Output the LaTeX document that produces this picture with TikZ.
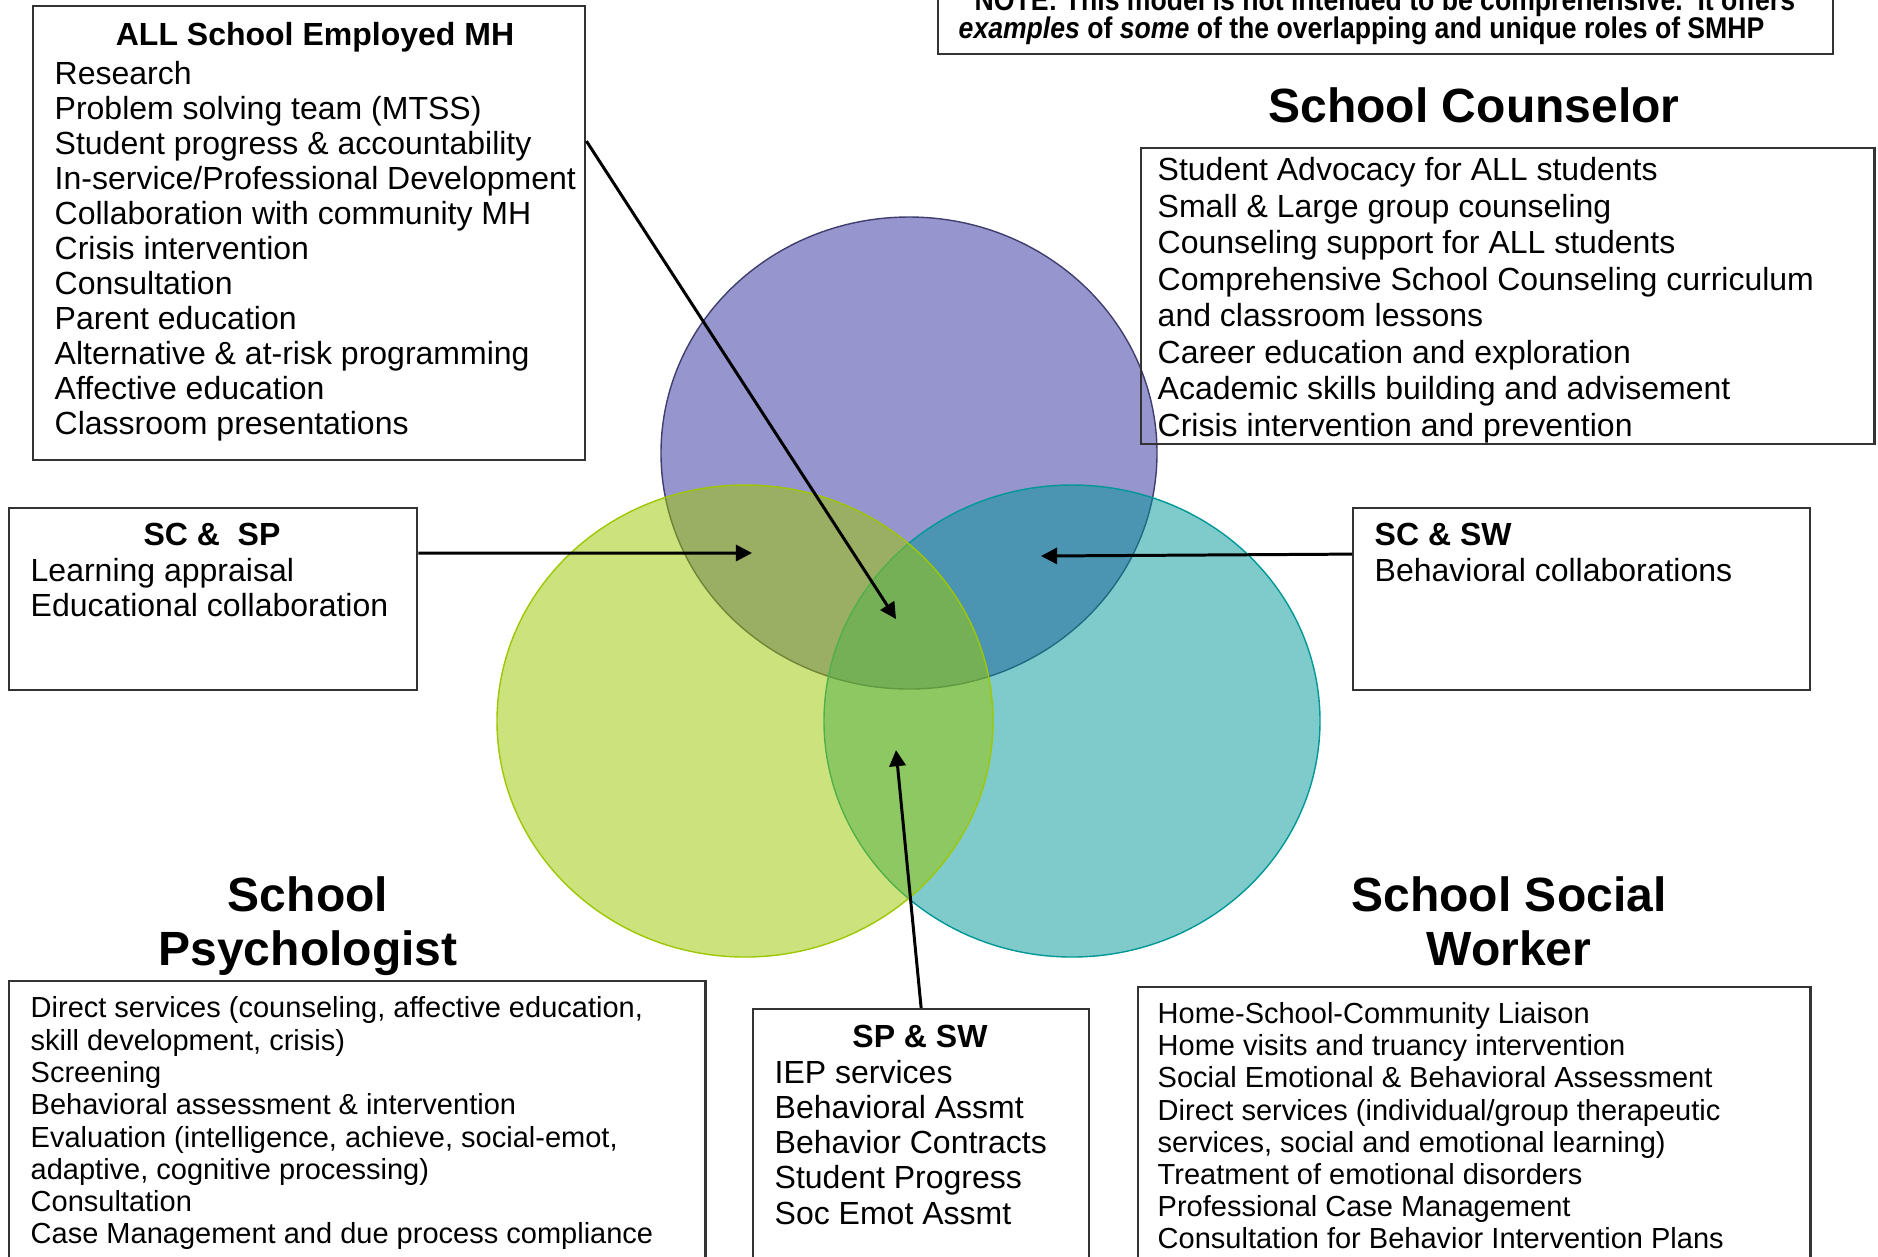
\documentclass[tikz,border=0pt]{standalone}
\usepackage{fontspec}
\setmainfont{Liberation Sans}
\newfontfamily\notefont[FakeStretch=0.89]{Liberation Sans}
\usetikzlibrary{arrows.meta}

\definecolor{sccol}{RGB}{107,104,184}
\definecolor{spcol}{RGB}{157,199,3}
\definecolor{swcol}{RGB}{0,151,151}

\tikzset{
  box/.style={draw=black!80, line width=0.6pt, anchor=north west, inner sep=0pt},
  txt/.style={inner sep=0pt, align=left, anchor=north west},
  head/.style={inner sep=0pt, font=\bfseries\fontsize{9.1}{10}\selectfont},
  role/.style={inner sep=0pt, anchor=north, align=center, font=\bfseries\fontsize{13.66}{15.36}\selectfont},
  link/.style={line width=0.85pt, -{Triangle[length=4.6pt,width=4.6pt]}},
}

\begin{document}
\begin{tikzpicture}[x=0.01cm, y=-0.01cm]
\useasboundingbox (0,0) rectangle (1878,1256);

% the three roles
\draw[draw=sccol!60!black, line width=0.4pt, fill=sccol, fill opacity=0.7] (909,453) ellipse [x radius=248, y radius=236];
\draw[draw=swcol, line width=0.4pt, fill=swcol, fill opacity=0.5] (1072,721) ellipse [x radius=248, y radius=236];
\draw[draw=spcol, line width=0.4pt, fill=spcol, fill opacity=0.52] (745,721) ellipse [x radius=248, y radius=236];

% note
\node[box, minimum width=8.94cm, minimum height=0.83cm] (notebox) at (937,-30) {};
\node[txt, font=\notefont\bfseries\fontsize{8.5}{7.97}\selectfont] (note) at (958,-12)
  {\hspace*{0.16cm}NOTE: This model is not intended to be comprehensive.\ \ It offers\\
   \textit{examples} of \textit{some} of the overlapping and unique roles of SMHP};

% ALL school employed MH
\node[box, minimum width=5.52cm, minimum height=4.54cm] (allbox) at (32,5) {};
\node[head, anchor=north] (alltitle) at (315,22) {ALL School Employed MH};
\node[txt, font=\fontsize{9.1}{9.93}\selectfont] (alllist) at (54,61)
  {Research\\
   Problem solving team (MTSS)\\
   Student progress \& accountability\\
   In-service/Professional Development\\
   Collaboration with community MH\\
   Crisis intervention\\
   Consultation\\
   Parent education\\
   Alternative \& at-risk programming\\
   Affective education\\
   Classroom presentations};

% school counselor
\node[role] (sctitle) at (1474,87) {School Counselor};
\node[box, minimum width=7.33cm, minimum height=2.96cm] (scbox) at (1140,147) {};
\node[txt, font=\fontsize{9.1}{10.38}\selectfont] (sclist) at (1157,157)
  {Student Advocacy for ALL students\\
   Small \& Large group counseling\\
   Counseling support for ALL students\\
   Comprehensive School Counseling curriculum\\
   and classroom lessons\\
   Career education and exploration\\
   Academic skills building and advisement\\
   Crisis intervention and prevention};

% SC & SP
\node[box, minimum width=4.08cm, minimum height=1.82cm] (scspbox) at (8,507) {};
\node[head, anchor=north] (scsptitle) at (212,522) {SC \&\ \ SP};
\node[txt, font=\fontsize{9.1}{9.96}\selectfont] (scsplist) at (30,558)
  {Learning appraisal\\
   Educational collaboration};

% SC & SW
\node[box, minimum width=4.57cm, minimum height=1.82cm] (scswbox) at (1352,507) {};
\node[head, anchor=north west] (scswtitle) at (1374,522) {SC \& SW};
\node[txt, font=\fontsize{9.1}{9.96}\selectfont] (scswlist) at (1374,558)
  {Behavioral collaborations};

% school psychologist
\node[role] (sptitle) at (308,876) {School\\Psychologist};
\node[box, minimum width=6.96cm, minimum height=3.2cm] (spbox) at (8,980) {};
\node[txt, font=\fontsize{8.25}{9.19}\selectfont] (splist) at (30,996)
  {Direct services (counseling, affective education,\\
   skill development, crisis)\\
   Screening\\
   Behavioral assessment \& intervention\\
   Evaluation (intelligence, achieve, social-emot,\\
   adaptive, cognitive processing)\\
   Consultation\\
   Case Management and due process compliance};

% SP & SW
\node[box, minimum width=3.36cm, minimum height=2.92cm] (spswbox) at (752,1008) {};
\node[head, anchor=north] (spswtitle) at (920,1024) {SP \& SW};
\node[txt, font=\fontsize{9.1}{9.96}\selectfont] (spswlist) at (774,1060)
  {IEP services\\
   Behavioral Assmt\\
   Behavior Contracts\\
   Student Progress\\
   Soc Emot Assmt};

% school social worker
\node[role] (swtitle) at (1509,876) {School Social\\Worker};
\node[box, minimum width=6.72cm, minimum height=3.14cm] (swbox) at (1137,986) {};
\node[txt, font=\fontsize{8.25}{9.13}\selectfont] (swlist) at (1157,1002)
  {Home-School-Community Liaison\\
   Home visits and truancy intervention\\
   Social Emotional \& Behavioral Assessment\\
   Direct services (individual/group therapeutic\\
   services, social and emotional learning)\\
   Treatment of emotional disorders\\
   Professional Case Management\\
   Consultation for Behavior Intervention Plans};

% arrows into the overlaps
\coordinate (allend) at (896,619);
\coordinate (scspend) at (752,553);
\coordinate (scswend) at (1041,556);
\coordinate (spswend) at (896,750);

\draw[link] ([yshift=-1.36cm]allbox.north east) -- (allend);
\draw[link] ([yshift=0.46cm]scspbox.east) -- (scspend);
\draw[link] ([yshift=0.45cm]scswbox.west) -- (scswend);
\draw[link] (spswbox.north) -- (spswend);

\end{tikzpicture}
\end{document}
